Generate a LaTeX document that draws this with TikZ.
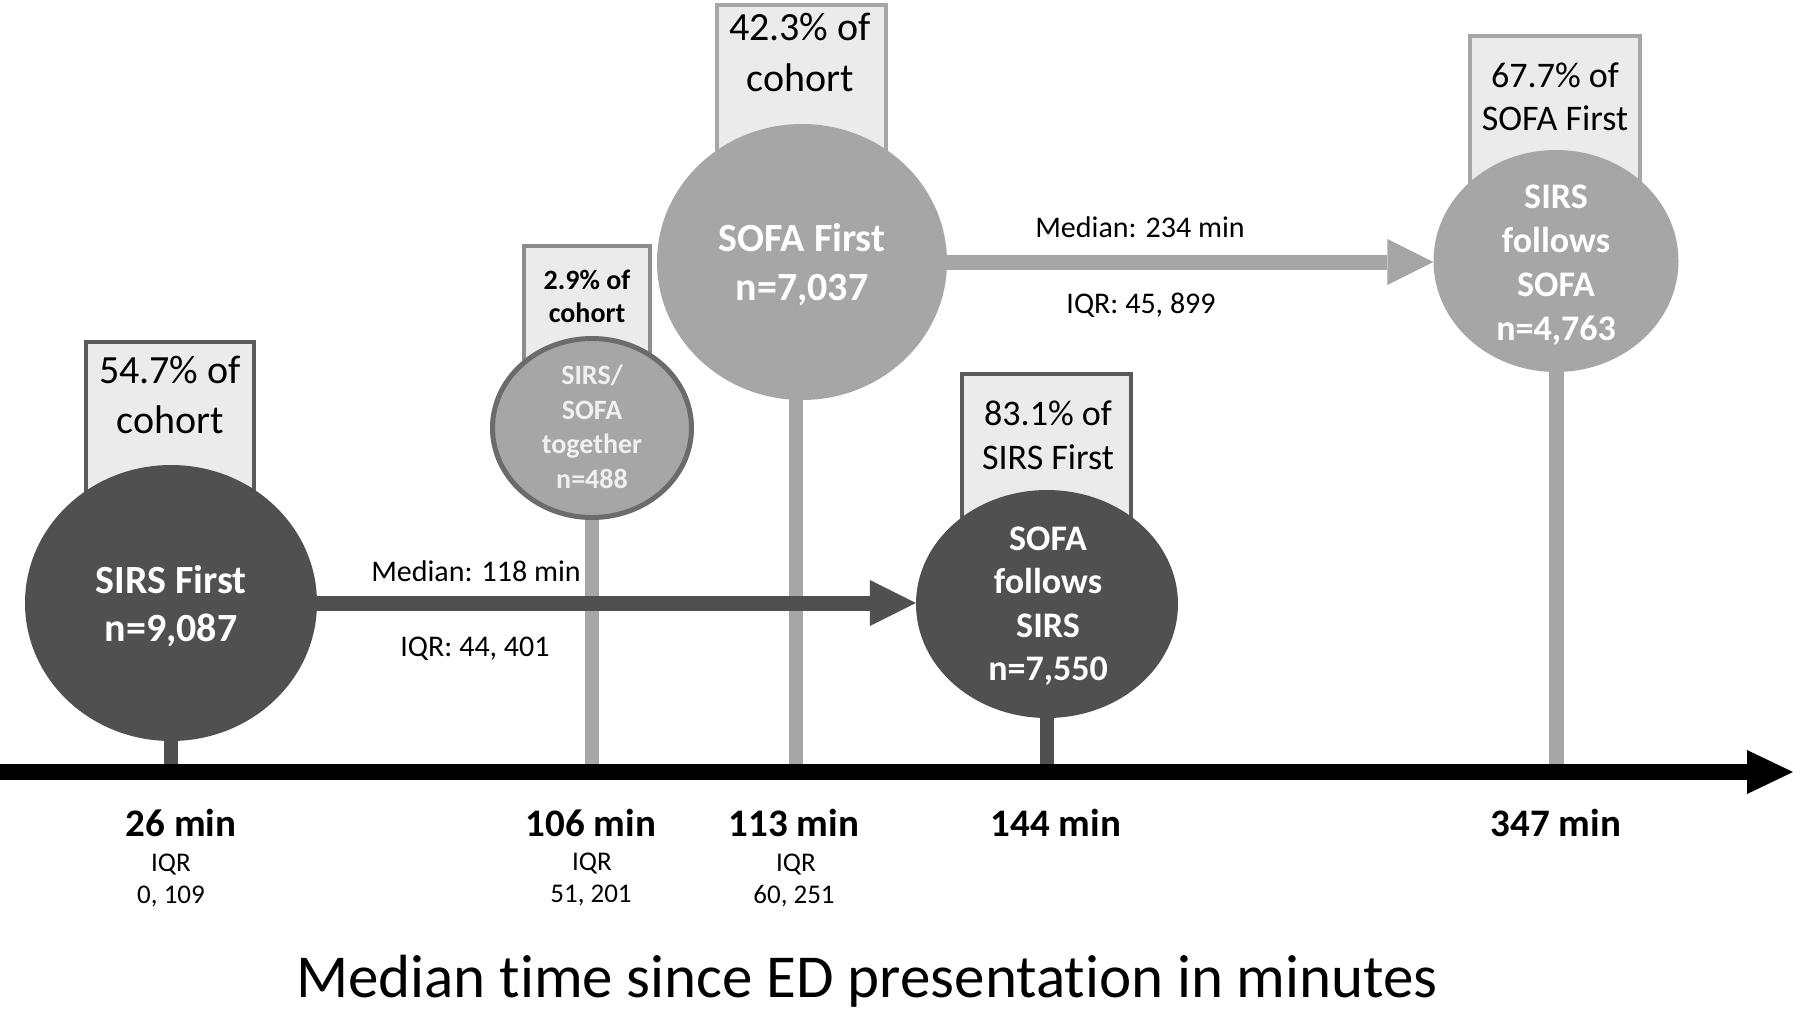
\documentclass[tikz,border=0pt]{standalone}
\usepackage{fontspec}
\setmainfont{Carlito}[Ligatures=NoCommon]
\usetikzlibrary{arrows.meta,shapes.geometric}
\definecolor{dk}{HTML}{505050}
\definecolor{lt}{HTML}{A6A6A6}
\definecolor{bf}{HTML}{EBEBEB}
\definecolor{bdk}{HTML}{5A5A5A}
\definecolor{bmid}{HTML}{8C8C8C}
\definecolor{cbd}{HTML}{6B6B6B}
\newcommand{\fsz}[2]{\fontsize{#1pt}{#2pt}\selectfont}
\begin{document}
\begin{tikzpicture}[x=1pt,y=-1pt,
  pctbox/.style={draw, line width=4pt, fill=bf, inner sep=0pt, anchor=north, minimum height=260pt},
  blob/.style={ellipse, inner sep=0pt, draw=none},
  stemline/.style={line width=14pt},
  flow/.style={line width=15pt, -{Triangle[length=46pt,width=46pt,line width=0pt]}},
  txt/.style={align=center, inner sep=0pt},
  wtxt/.style={align=center, inner sep=0pt, text=white},
  tick/.style={align=center, inner sep=0pt, font=\bfseries\fsz{39}{46}},
  small/.style={align=center, inner sep=0pt, font=\fsz{27}{32}},
  med/.style={align=center, inner sep=0pt, font=\fsz{30}{36}}
]
\useasboundingbox (0,0) rectangle (1800,1010);
\fill[white] (0,0) rectangle (1800,1010);

% boxes
\node[pctbox, draw=bdk, minimum width=168pt] (bA) at (170,340) {};
\node[pctbox, draw=bmid, minimum width=126pt, minimum height=200pt] (bB) at (587,244) {};
\node[pctbox, draw=lt, minimum width=169pt] (bC) at (801.5,3) {};
\node[pctbox, draw=bdk, minimum width=169pt] (bD) at (1046.5,372) {};
\node[pctbox, draw=lt, minimum width=170pt] (bE) at (1555,34) {};

% timeline coordinates
\coordinate (tl0) at (0,772);
\coordinate (tl1) at (1793,772);

% circles (shapes for anchors)
\path
  node[blob, minimum width=292pt, minimum height=276pt] (A) at (171,603) {}
  node[blob, minimum width=199pt, minimum height=179pt] (B) at (592,428) {}
  node[blob, minimum width=290pt, minimum height=276pt] (C) at (802,262) {}
  node[blob, minimum width=262pt, minimum height=228pt] (D) at (1047,604) {}
  node[blob, minimum width=245pt, minimum height=222pt] (E) at (1556,261) {};

% stems
\draw[stemline, dk] (A.center) -- (A.center |- tl0);
\draw[stemline, lt] (B.center) -- (B.center |- tl0);
\draw[stemline, lt] ([xshift=-6pt]C.center) -- ([xshift=-6pt]C.center |- tl0);
\draw[stemline, dk] (D.center) -- (D.center |- tl0);
\draw[line width=15pt, lt] (E.center) -- (E.center |- tl0);

% filled circles
\fill[dk] (A.center) ellipse [x radius=146pt, y radius=138pt];
\filldraw[fill=lt, draw=cbd, line width=5pt] (B.center) ellipse [x radius=99.5pt, y radius=89.5pt];
\fill[lt] (C.center) ellipse [x radius=145pt, y radius=138pt];
\fill[dk] (D.center) ellipse [x radius=131pt, y radius=114pt];
\fill[lt] (E.center) ellipse [x radius=122.5pt, y radius=111pt];

% timeline
\draw[line width=16pt, black, -{Triangle[length=46pt,width=44pt,line width=0pt]}] (tl0) -- (tl1);

% flow arrows
\draw[flow, dk] (A.east) -- (A.east -| D.west);
\draw[flow, lt] (C.east) -- (C.east -| E.west);

% box texts
\node[txt, font=\fsz{40}{50}] (tA) at (170,395) {54.7\% of\\cohort};
\node[txt, font=\bfseries\fsz{28}{33}] (tB) at (587,296) {2.9\% of\\cohort};
\node[txt, font=\fsz{40}{51}] (tC) at (800,52) {42.3\% of\\cohort};
\node[txt, font=\fsz{36}{44}] (tD) at (1048,435) {83.1\% of\\SIRS First};
\node[txt, font=\fsz{36}{43}] (tE) at (1555,97) {67.7\% of\\SOFA First};

% circle texts
\node[wtxt, font=\bfseries\fsz{40}{48}] (nA) at (171,606) {SIRS First\\n=9,087};
\node[align=center, inner sep=0pt, text=white!94!black, font=\bfseries\fsz{28}{34.5}] (nB) at (592,427) {SIRS/\\SOFA\\together\\n=488};
\node[wtxt, font=\bfseries\fsz{40}{49}] (nC) at (802,265) {SOFA First\\n=7,037};
\node[wtxt, font=\bfseries\fsz{36}{43.5}] (nD) at (1048,606) {SOFA\\follows\\SIRS\\n=7,550};
\node[wtxt, font=\bfseries\fsz{36}{44}] (nE) at (1556,265) {SIRS\\follows\\SOFA\\n=4,763};

% flow labels
\node[med] (m1) at (476,571) {Median: 118 min};
\node[med] (i1) at (475,649) {IQR: 44, 401};
\node[med] (m2) at (1140,227) {Median: 234 min};
\node[med] (i2) at (1141,305) {IQR: 45, 899};

% timeline labels
\node[tick] (k1) at (181,823) {26 min};
\node[small] (q1) at (171,865) {IQR};
\node[small] (r1) at (171,896) {0, 109};
\node[tick] (k2) at (591,823) {106 min};
\node[small] (q2) at (592,864) {IQR};
\node[small] (r2) at (591,895) {51, 201};
\node[tick] (k3) at (794,823) {113 min};
\node[small] (q3) at (796,865) {IQR};
\node[small] (r3) at (794,896) {60, 251};
\node[tick] (k4) at (1056,823) {144 min};
\node[tick] (k5) at (1556,823) {347 min};

% axis title
\node[txt, font=\fsz{61}{70}] (title) at (867,981) {Median time since ED presentation in minutes};
\end{tikzpicture}
\end{document}
